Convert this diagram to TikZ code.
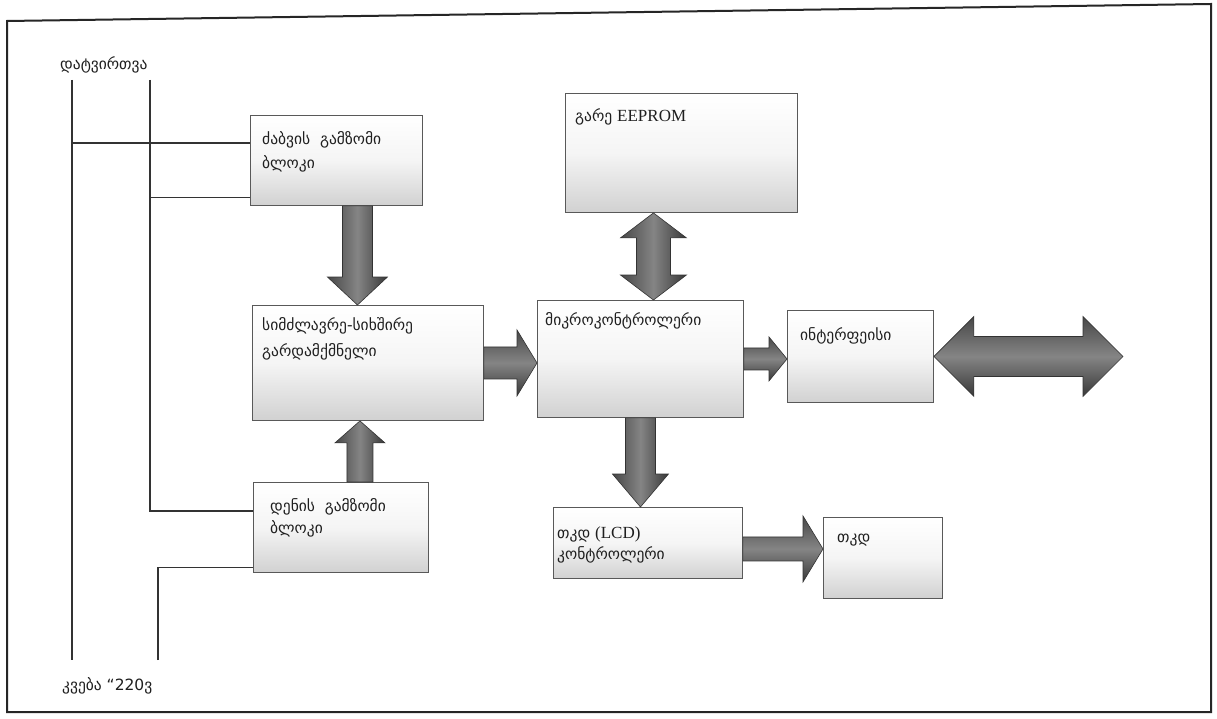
\documentclass[tikz,border=0pt]{standalone}
\usepackage{fontspec}
\setmainfont{Liberation Serif}
\newfontfamily\geo{DejaVu Sans}
\usetikzlibrary{calc}

\tikzset{
  box/.style={draw=black!65, line width=0.9pt, top color=white, bottom color=black!18,
              middle color=black!4, anchor=north west, inner sep=0pt},
  lbl/.style={anchor=base west, inner sep=0pt, text=black!88,
              font=\geo\fontsize{15.5}{18}\selectfont},
  wire/.style={draw=black!80, line width=1.4pt},
  harr/.style={draw=black!80, line width=0.6pt, top color=black!72, bottom color=black!78,
               middle color=black!48},
  varr/.style={draw=black!80, line width=0.6pt, left color=black!72, right color=black!78,
               middle color=black!48},
  frame/.style={draw=black!85, line width=2pt},
}

% block arrow pointing right: style, from, to, shaft half-width, head half-width, head length
\newcommand\arrowR[6]{%
  \path[#1] let \p1=(#2), \p2=(#3) in
    (\x1,\y1+#4) -- (\x2-#6,\y1+#4) -- (\x2-#6,\y1+#5) -- (\x2,\y1)
    -- (\x2-#6,\y1-#5) -- (\x2-#6,\y1-#4) -- (\x1,\y1-#4) -- cycle;}
% vertical block arrow; head length signed (positive = pointing down)
\newcommand\arrowV[6]{%
  \path[#1] let \p1=(#2), \p2=(#3) in
    (\x1-#4,\y1) -- (\x1-#4,\y2+#6) -- (\x1-#5,\y2+#6) -- (\x1,\y2)
    -- (\x1+#5,\y2+#6) -- (\x1+#4,\y2+#6) -- (\x1+#4,\y1) -- cycle;}
% horizontal double block arrow, left tip to right tip
\newcommand\arrowLR[6]{%
  \path[#1] let \p1=(#2), \p2=(#3) in
    (\x1,\y1) -- (\x1+#6,\y1+#5) -- (\x1+#6,\y1+#4) -- (\x2-#6,\y1+#4)
    -- (\x2-#6,\y1+#5) -- (\x2,\y1) -- (\x2-#6,\y1-#5) -- (\x2-#6,\y1-#4)
    -- (\x1+#6,\y1-#4) -- (\x1+#6,\y1-#5) -- cycle;}
% vertical double block arrow, top tip to bottom tip
\newcommand\arrowUD[6]{%
  \path[#1] let \p1=(#2), \p2=(#3) in
    (\x1,\y1) -- (\x1+#5,\y1-#6) -- (\x1+#4,\y1-#6) -- (\x1+#4,\y2+#6)
    -- (\x1+#5,\y2+#6) -- (\x1,\y2) -- (\x1-#5,\y2+#6) -- (\x1-#4,\y2+#6)
    -- (\x1-#4,\y1-#6) -- (\x1-#5,\y1-#6) -- cycle;}

\begin{document}
\begin{tikzpicture}[x=1pt, y=-1pt]
  \fill[white] (0,0) rectangle (1217,719);
  \useasboundingbox (0,0) rectangle (1217,719);

  % outer frame
  \draw[frame] (7,21) -- (1211,4) -- (1211,712) -- (7,712) -- cycle;

  % blocks
  \node[box, minimum width=172pt, minimum height=90pt] (b1) at (250,115) {};
  \node[box, minimum width=231pt, minimum height=115pt] (b2) at (252,305) {};
  \node[box, minimum width=175pt, minimum height=90pt] (b3) at (253,482) {};
  \node[box, minimum width=232pt, minimum height=119pt] (eep) at (565,93) {};
  \node[box, minimum width=206pt, minimum height=117pt] (mcu) at (537,300) {};
  \node[box, minimum width=146pt, minimum height=92pt] (ifc) at (787,310) {};
  \node[box, minimum width=189pt, minimum height=71pt] (lcd) at (553,507) {};
  \node[box, minimum width=119pt, minimum height=81pt] (dsp) at (823,517) {};

  % block texts
  \node[lbl] (b1a) at (262,145) {ძაბვის~ გამზომი};
  \node[lbl] (b1b) at (262,169) {ბლოკი};
  \node[lbl] (b2a) at (262,330) {სიმძლავრე-სიხშირე};
  \node[lbl] (b2b) at (262,356) {გარდამქმნელი};
  \node[lbl] (b3a) at (270,511) {დენის~ გამზომი};
  \node[lbl] (b3b) at (270,533) {ბლოკი};
  \node[lbl] (eept) at (575,122) {გარე {\rmfamily\fontsize{17}{19}\selectfont EEPROM}};
  \node[lbl] (mcut) at (545,325) {მიკროკონტროლერი};
  \node[lbl] (ifct) at (800,340) {ინტერფეისი};
  \node[lbl] (lcda) at (557,538) {თკდ {\rmfamily\fontsize{17}{19}\selectfont (LCD)}};
  \node[lbl] (lcdb) at (557,559) {კონტროლერი};
  \node[lbl] (dspt) at (837,542) {თკდ};

  % supply lines
  \node[lbl] (load) at (60,70) {დატვირთვა};
  \node[lbl] (mains) at (62,690) {კვება “220ვ};
  \coordinate (l1top) at (72,80);
  \coordinate (l1bot) at (72,660);
  \coordinate (l2top) at (150,80);
  \coordinate (l3bot) at (158,660);
  \coordinate (p1) at ($(b1.north west)!0.31!(b1.south west)$);
  \coordinate (p2) at ($(b1.north west)!0.91!(b1.south west)$);
  \coordinate (p3) at ($(b3.north west)!0.32!(b3.south west)$);
  \coordinate (p4) at ($(b3.north west)!0.94!(b3.south west)$);
  \draw[wire] (l1top) -- (l1bot);
  \draw[wire] (l2top) |- (p3);
  \draw[wire] (p1) -- (p1 -| l1top);
  \draw[wire] (p2) -- (p2 -| l2top);
  \draw[wire] (l3bot) |- (p4);

  % data-flow arrows
  \coordinate (s1) at ($(b1.south)+(21,0)$);
  \coordinate (s3) at ($(b3.north)+(19,0)$);
  \coordinate (se) at ($(eep.south)+(-28,0)$);
  \coordinate (sl) at ($(lcd.east)+(0,6)$);
  \coordinate (ext) at (1123,357);
  \arrowV{varr}{s1}{b2.north}{15pt}{30pt}{28pt}
  \arrowV{varr}{s3}{b2.south}{13pt}{25pt}{-22pt}
  \arrowR{harr}{b2.east}{mcu.west}{16pt}{33pt}{20pt}
  \arrowUD{varr}{se}{mcu.north}{17pt}{33pt}{25pt}
  \arrowR{harr}{mcu.east}{ifc.west}{11pt}{22pt}{18pt}
  \arrowV{varr}{mcu.south}{lcd.north}{15pt}{28pt}{33pt}
  \arrowR{harr}{sl}{dsp.west}{12pt}{33pt}{20pt}
  \arrowLR{harr}{ifc.east}{ext}{20pt}{40pt}{40pt}
\end{tikzpicture}
\end{document}
